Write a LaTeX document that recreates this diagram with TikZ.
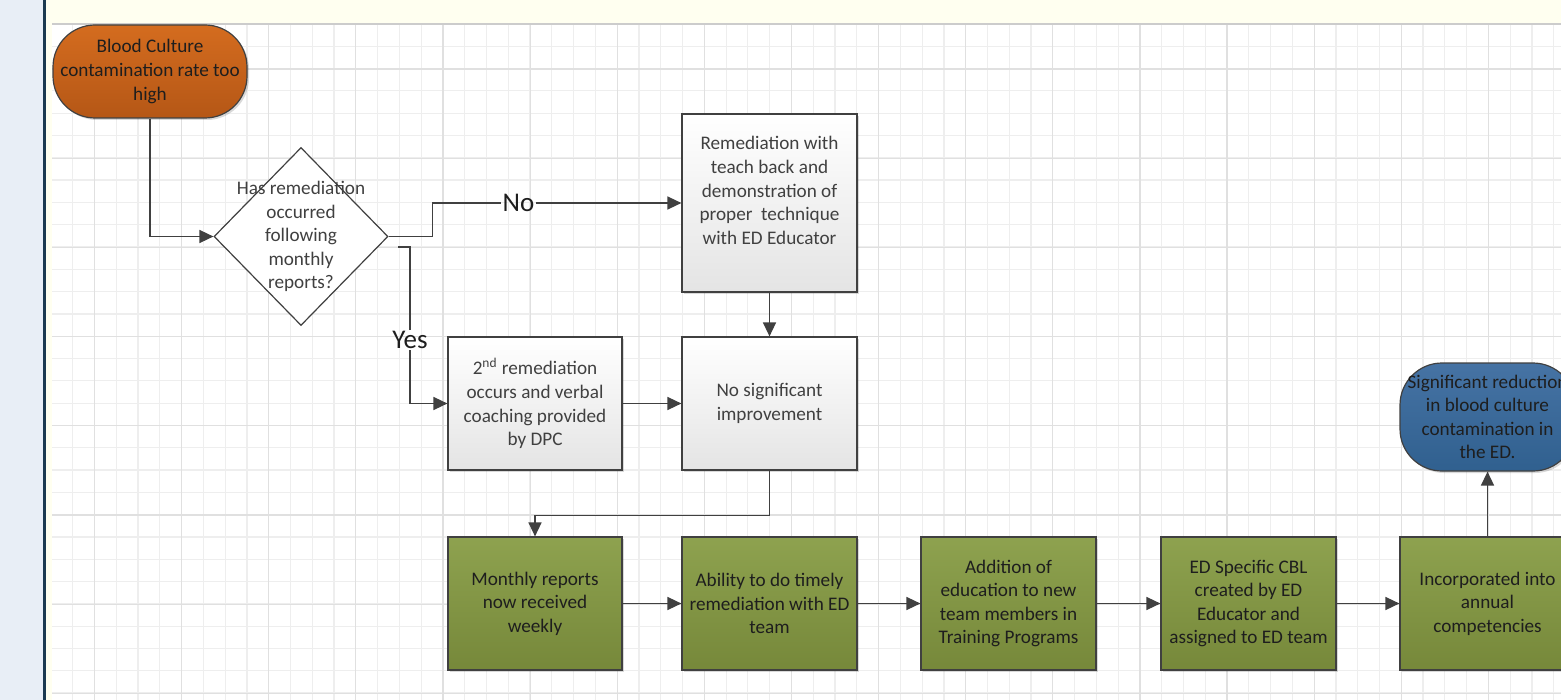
\documentclass[tikz,border=0pt]{standalone}
\usepackage{fontspec}
\setmainfont{Carlito}
\usetikzlibrary{arrows.meta,shapes.geometric,shadows}
\definecolor{linec}{HTML}{404040}
\definecolor{gridmin}{HTML}{EEEEEE}
\definecolor{gridmaj}{HTML}{E0E0E0}
\definecolor{panel}{HTML}{E8EEF6}
\definecolor{navy}{HTML}{1C3A50}
\definecolor{ivory}{HTML}{FFFFF0}
\definecolor{orangeTop}{HTML}{D46C1F}
\definecolor{orangeBot}{HTML}{B55716}
\definecolor{blueTop}{HTML}{4673A4}
\definecolor{blueBot}{HTML}{30608F}
\definecolor{greenTop}{HTML}{8EA24F}
\definecolor{greenBot}{HTML}{76883A}
\definecolor{grayBot}{HTML}{E4E4E4}
\definecolor{txtdark}{HTML}{1E1E1E}
\definecolor{txtgray}{HTML}{404040}
\begin{document}
\begin{tikzpicture}[x=0.5pt,y=-0.5pt,
  conn/.style={draw=linec, line width=0.75pt},
  arr/.style={conn, -{Triangle[length=7pt,width=6.5pt]}},
  txt/.style={font=\fontsize{9.6}{11.8}\selectfont, align=center, inner sep=0pt},
  bigtxt/.style={font=\fontsize{13.5}{15}\selectfont, text=txtdark, inner sep=0.5pt},
  shad/.style={drop shadow={shadow xshift=1pt, shadow yshift=-1pt, opacity=0.15, fill=black}},
  graybox/.style={draw=linec, line width=0.6pt, top color=white, bottom color=grayBot, minimum width=87.5pt, shad, txt, text=txtgray},
  greenbox/.style={draw=linec, line width=0.6pt, top color=greenTop, bottom color=greenBot, minimum width=87.5pt, minimum height=66.5pt, shad, txt, text=txtdark},
  term/.style={draw=linec, line width=0.6pt, rounded corners=21pt, shad, txt, text=txtdark},
  gridminor/.style={draw=gridmin, line width=0.6pt},
  gridmajor/.style={draw=gridmaj, line width=0.6pt}]
\useasboundingbox (0,0) rectangle (1561,700);
\clip (0,0) rectangle (1561,700);
% background
\fill[white] (0,0) rectangle (1561,700);
\fill[panel] (0,0) rectangle (43,700);
\fill[navy] (43,0) rectangle (45.5,700);
\fill[ivory] (45.5,0) rectangle (1561,24);
\fill[ivory] (45.5,0) rectangle (52,700);
% grid
\foreach \i in {0,...,68} \draw[gridminor] ({72.7+21.78*\i},24) -- ({72.7+21.78*\i},700);
\foreach \i in {1,...,30} \draw[gridminor] (52,{24+22.3*\i}) -- (1561,{24+22.3*\i});
\foreach \i in {0,...,16} \draw[gridmajor] ({94.5+87.12*\i},24) -- ({94.5+87.12*\i},700);
\foreach \i in {0,...,7} \draw[gridmajor] (52,{69+89.2*\i}) -- (1561,{69+89.2*\i});
\draw[draw=gray!40, line width=0.8pt] (52,24) -- (1561,24);
% nodes
\node[term, top color=orangeTop, bottom color=orangeBot, minimum width=97pt, minimum height=46.5pt] (start) at (150,71.5) {Blood Culture\\contamination rate too\\high};
\node[draw=linec, line width=0.6pt, fill=white, shape=diamond, minimum width=87pt, minimum height=89pt, inner sep=0pt] (dec) at (301,236.5) {};
\node[txt, text=txtgray] (dectxt) at (dec.center) {Has remediation\\occurred\\following\\monthly\\reports?};
\node[graybox, minimum height=89pt] (remed) at (769.5,203) {};
\node[txt, text=txtgray] (remedtxt) at (769.5,190.5) {Remediation with\\teach back and\\demonstration of\\proper\ \ technique\\with ED Educator};
\node[graybox, minimum width=87pt, minimum height=66.5pt] (second) at (535,403.5) {2\textsuperscript{nd} remediation\\occurs and verbal\\coaching provided\\by DPC};
\node[graybox, minimum height=66.5pt] (nosig) at (769.5,403.5) {No significant\\improvement};
\node[greenbox, minimum width=87pt] (g1) at (535,603.5) {Monthly reports\\now received\\weekly};
\node[greenbox] (g2) at (769.5,603.5) {Ability to do timely\\remediation with ED\\team};
\node[greenbox] (g3) at (1008.5,603.5) {Addition of\\education to new\\team members in\\Training Programs};
\node[greenbox] (g4) at (1248.5,603.5) {ED Specific CBL\\created by ED\\Educator and\\assigned to ED team};
\node[greenbox] (g5) at (1487.5,603.5) {Incorporated into\\annual\\competencies};
\node[term, top color=blueTop, bottom color=blueBot, minimum width=87.5pt, minimum height=54pt] (endT) at (1487.5,417) {Significant reduction\\in blood culture\\contamination in\\the ED.};
\node[bigtxt] (nolbl) at (518.5,203) {No};
\node[bigtxt] (yes) at (410,340) {Yes};
\coordinate (ystart) at (398,247);
% connectors
\draw[arr] (start.south) |- (dec.west);
\draw[conn] (dec.east) -- ++(44,0) |- (nolbl.west);
\draw[arr] (nolbl.east) -- (remed.west);
\draw[conn] (ystart) -| (yes.north);
\draw[arr] (yes.south) |- (second.west);
\draw[arr] (remed.south) -- (nosig.north);
\draw[arr] (second.east) -- (nosig.west);
\draw[arr] (nosig.south) -- ++(0,45) -| (g1.north);
\draw[arr] (g1.east) -- (g2.west);
\draw[arr] (g2.east) -- (g3.west);
\draw[arr] (g3.east) -- (g4.west);
\draw[arr] (g4.east) -- (g5.west);
\draw[arr] (g5.north) -- (endT.south);
\end{tikzpicture}
\end{document}
